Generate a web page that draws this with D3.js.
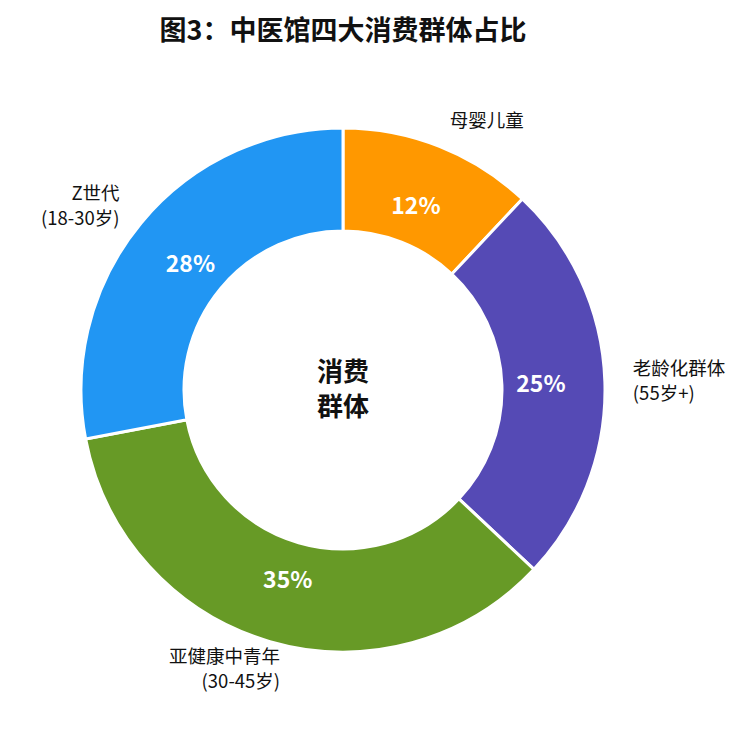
<!DOCTYPE html>
<html>
<head>
<meta charset="utf-8">
<script src="https://cdn.jsdelivr.net/npm/d3@7"></script>
<style>
  html, body { margin: 0; padding: 0; background: #fff; }
  svg text { font-family: "Noto Sans CJK SC", "Noto Sans", sans-serif; }
</style>
</head>
<body>
<svg id="chart" width="752" height="734"></svg>
<script>
// Data
const groups  = ["母婴儿童", "老龄化群体", "亚健康中青年", "Z世代"];
const ages    = ["", "(55岁+)", "(30-45岁)", "(18-30岁)"];
const shares  = [12, 25, 35, 28];
const colors  = ["#FF9800", "#554AB5", "#679A26", "#2196F3"];

const width = 752, height = 734;
const cx = 343, cy = 390;
const outerR = 262, innerR = 159, labelR = 290, pctR = 198;

const svg = d3.select("#chart");

// Title
svg.append("text")
  .attr("x", cx)
  .attr("y", 40)
  .attr("text-anchor", "middle")
  .attr("font-size", 27)
  .attr("font-weight", "bold")
  .attr("fill", "#111")
  .text("图3：中医馆四大消费群体占比");

const data = groups.map((g, i) => ({ name: g, age: ages[i], value: shares[i], color: colors[i] }));

const pie = d3.pie().sort(null).value(d => d.value);
const arc = d3.arc().innerRadius(innerR).outerRadius(outerR);
const pctArc = d3.arc().innerRadius(pctR).outerRadius(pctR);
const labelArc = d3.arc().innerRadius(labelR).outerRadius(labelR);

const arcs = pie(data);

const g = svg.append("g").attr("transform", `translate(${cx},${cy})`);

// Slices
g.append("g")
  .selectAll("path")
  .data(arcs)
  .enter()
  .append("path")
  .attr("d", arc)
  .attr("fill", d => d.data.color)
  .attr("stroke", "#fff")
  .attr("stroke-width", 3);

// Percentage labels
g.append("g")
  .selectAll("text")
  .data(arcs)
  .enter()
  .append("text")
  .attr("transform", d => `translate(${pctArc.centroid(d)})`)
  .attr("text-anchor", "middle")
  .attr("dy", "0.35em")
  .attr("font-size", 23)
  .attr("font-weight", "bold")
  .attr("fill", "#fff")
  .text(d => d.data.value + "%");

// Outer category labels
const outer = g.append("g")
  .selectAll("text")
  .data(arcs)
  .enter()
  .append("text")
  .attr("font-size", 18.5)
  .attr("fill", "#111")
  .attr("text-anchor", d => {
    const mid = (d.startAngle + d.endAngle) / 2;
    return mid < Math.PI ? "start" : "end";
  })
  .attr("transform", d => {
    const [x, y] = labelArc.centroid(d);
    const mid = (d.startAngle + d.endAngle) / 2;
    const shift = (mid > Math.PI && mid < Math.PI * 1.25) ? 18 : 0;
    return `translate(${x + shift},${y})`;
  });

outer.each(function (d) {
  const t = d3.select(this);
  const lines = d.data.age ? [d.data.name, d.data.age] : [d.data.name];
  const start = lines.length === 2 ? -0.3 : 0.35;
  lines.forEach((line, i) => {
    t.append("tspan")
      .attr("x", 0)
      .attr("dy", i === 0 ? start + "em" : "1.35em")
      .text(line);
  });
});

// Centre text
g.append("text")
  .attr("text-anchor", "middle")
  .attr("font-size", 26)
  .attr("font-weight", "bold")
  .attr("fill", "#111")
  .selectAll("tspan")
  .data(["消费", "群体"])
  .enter()
  .append("tspan")
  .attr("x", 0)
  .attr("dy", (d, i) => i === 0 ? "-0.35em" : "1.35em")
  .text(d => d);
</script>
</body>
</html>
